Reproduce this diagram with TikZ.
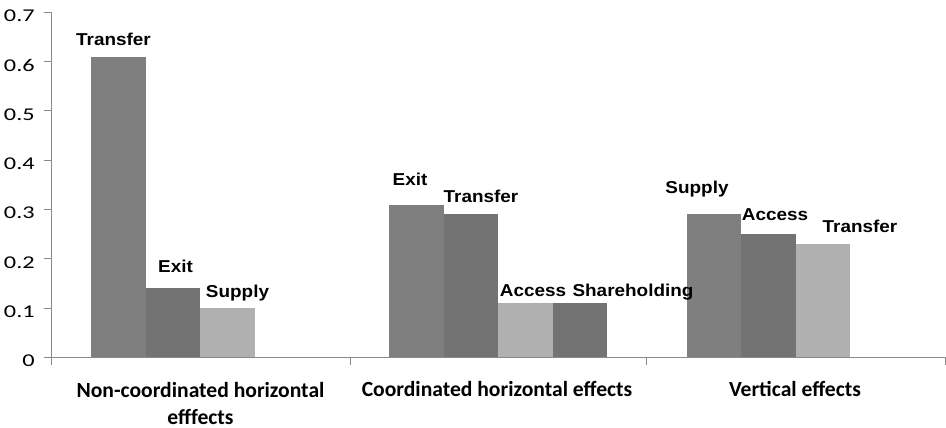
\documentclass[tikz,border=0pt]{standalone}
\usepackage{fontspec}
\setmainfont{Liberation Sans}
\newfontfamily\catfont{Carlito}
\usepackage{tikz}
\usetikzlibrary{calc}
\definecolor{barA}{HTML}{7F7F7F}
\definecolor{barB}{HTML}{737373}
\definecolor{barC}{HTML}{B0B0B0}
\definecolor{axisgray}{HTML}{898989}
\tikzstyle{axis} = [draw=axisgray, line width=1pt]
\tikzstyle{tick} = [anchor=east, inner sep=0pt, xscale=1.35, font=\catfont\fontsize{18}{20}\selectfont]
\tikzstyle{value} = [anchor=base, inner sep=0pt, xscale=1.1, font=\bfseries\fontsize{17.2}{20}\selectfont]
\tikzstyle{category} = [anchor=base, align=center, inner sep=0pt, font=\catfont\bfseries\fontsize{21.6}{26.6}\selectfont]

\begin{document}
\begin{tikzpicture}[x=1pt, y=1pt]
	\useasboundingbox (0,0) rectangle (946,428);
	% bars
	\foreach \x/\v/\c in {91.3/0.61/barA, 145.8/0.14/barB, 200.3/0.10/barC,
		389/0.31/barA, 443.5/0.29/barB, 498/0.11/barC, 552.5/0.11/barB,
		686.5/0.29/barA, 741/0.25/barB, 795.5/0.23/barC}
		\fill [\c] (\x,70.5) rectangle ++(54.5,493.1*\v);
	% axes
	\draw [axis] (51,70.5) -- (51,415.6);
	\draw [axis] (51,70.5) -- (945,70.5);
	\foreach \i/\lab in {0/0, 1/0.1, 2/0.2, 3/0.3, 4/0.4, 5/0.5, 6/0.6, 7/0.7} {
		\draw [axis] (44,70.5+49.3*\i) -- (51,70.5+49.3*\i);
		\node (t\i) [tick] at (35,67+49.3*\i) {\lab};
	}
	\foreach \x in {51, 350, 646.7, 945}
		\draw [axis] (\x,70.5) -- (\x,63);
	% labels
	\node (transferA) [value] at (113.5,382.7) {Transfer};
	\node (exitA) [value] at (175.5,155.3) {Exit};
	\node (supplyA) [value] at (237.5,130.3) {Supply};
	\node (exitB) [value] at (410,242) {Exit};
	\node (transferB) [value] at (481,225.3) {Transfer};
	\node (accessB) [value] at (533,131.3) {Access};
	\node (shareB) [value] at (633,131.3) {Shareholding};
	\node (supplyC) [value] at (697,234) {Supply};
	\node (accessC) [value] at (775,207) {Access};
	\node (transferC) [value] at (860,195.3) {Transfer};
	\node (catA) [category] at (200.5,3.7) {Non-coordinated horizontal\\efffects};
	\node (catB) [category] at (497,31.3) {Coordinated horizontal effects};
	\node (catC) [category] at (795,31.3) {Vertical effects};
\end{tikzpicture}
\end{document}
